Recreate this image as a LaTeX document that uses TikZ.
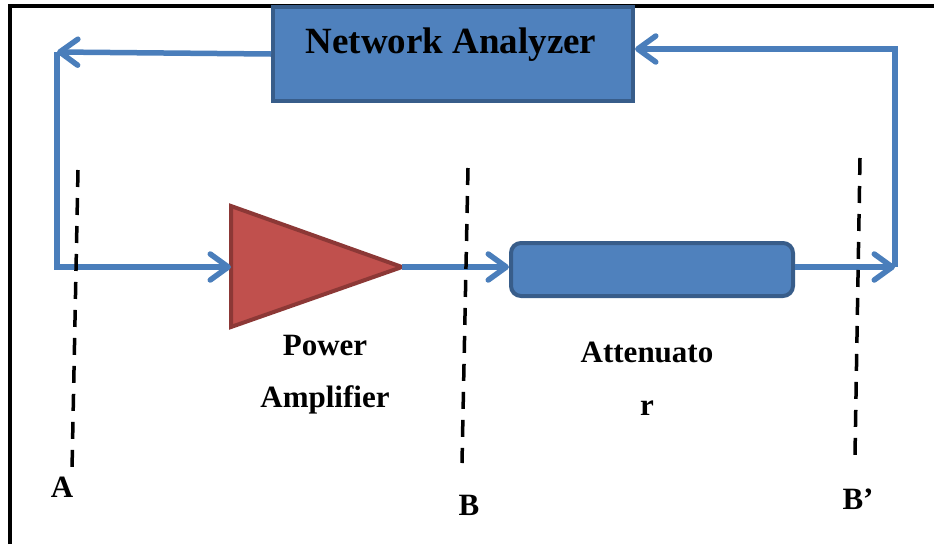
\documentclass[tikz,border=0pt]{standalone}
\usepackage{fontspec}
\setmainfont{Liberation Serif}
\usetikzlibrary{arrows.meta}
\definecolor{boxfill}{HTML}{4F81BD}
\definecolor{boxline}{HTML}{385D8A}
\definecolor{wire}{HTML}{4A7EBB}
\definecolor{ampfill}{HTML}{C0504D}
\definecolor{ampline}{HTML}{8C3836}
\tikzset{
  wirestyle/.style={draw=wire, line width=5.5pt, line join=miter},
  arr/.style={wirestyle, -{Straight Barb[length=18pt,width=26pt,line width=5.5pt,round]}},
  refline/.style={draw=black, line width=3.5pt, dash pattern=on 17pt off 11pt},
  lbl/.style={font=\bfseries\fontsize{31}{36}\selectfont, inner sep=0pt, align=center},
  bluebox/.style={fill=boxfill, draw=boxline, line width=4pt, inner sep=0pt}
}
\begin{document}
\begin{tikzpicture}[x=1pt,y=-1pt]
\useasboundingbox (0,0) rectangle (934,544);
% frame (only top and left visible)
\draw[line width=4pt] (10,544) -- (10,6) -- (934,6);
% Network analyzer
\node[bluebox, minimum width=360pt, minimum height=94pt, anchor=north west] (na) at (271,5) {};
\node[font=\bfseries\fontsize{37}{40}\selectfont, inner sep=0pt] (natext) at (451,45) {Network Analyzer};
% power amplifier
\coordinate (pin) at (231,267);
\coordinate (ptop) at (231,206);
\coordinate (pbot) at (231,327);
\coordinate (ptip) at (402,267);
\draw[fill=ampfill, draw=ampline, line width=4pt, line join=miter] (ptop) -- (ptip) -- (pbot) -- cycle;
% attenuator
\node[bluebox, rounded corners=10pt, minimum width=282pt, minimum height=53pt, anchor=north west] (att) at (509,241) {};
% corners
\coordinate (cl) at (57,52);
\coordinate (clb) at (57,267);
\coordinate (cr) at (895,267);
\coordinate (crt) at (895,49);
% connectors
\draw[arr] (na.west) -- (cl);
\draw[arr] (cl) -- (clb) -- (pin);
\draw[arr] (ptip) -- (ptip -| att.west);
\draw[arr] (att.east |- cr) -- (cr);
\draw[arr] (cr) -- (crt) -- (na.east |- crt);
% reference planes
\coordinate (a1) at (78,170); \coordinate (a2) at (72,470);
\coordinate (b1) at (468,168); \coordinate (b2) at (462,463);
\coordinate (c1) at (860,158); \coordinate (c2) at (855,455);
\draw[refline] (a1) -- (a2);
\draw[refline] (b1) -- (b2);
\draw[refline] (c1) -- (c2);
% labels
\node[lbl] (la) at (62,487) {A};
\node[lbl] (lb) at (469,505) {B};
\node[lbl] (lbp) at (858,499) {B’};
\node[lbl] (lpa1) at (325,345) {Power};
\node[lbl] (lpa2) at (325,400) {Amplifier};
\node[lbl] (lat1) at (647,352) {Attenuato};
\node[lbl] (lat2) at (647,408) {r};
\end{tikzpicture}
\end{document}
